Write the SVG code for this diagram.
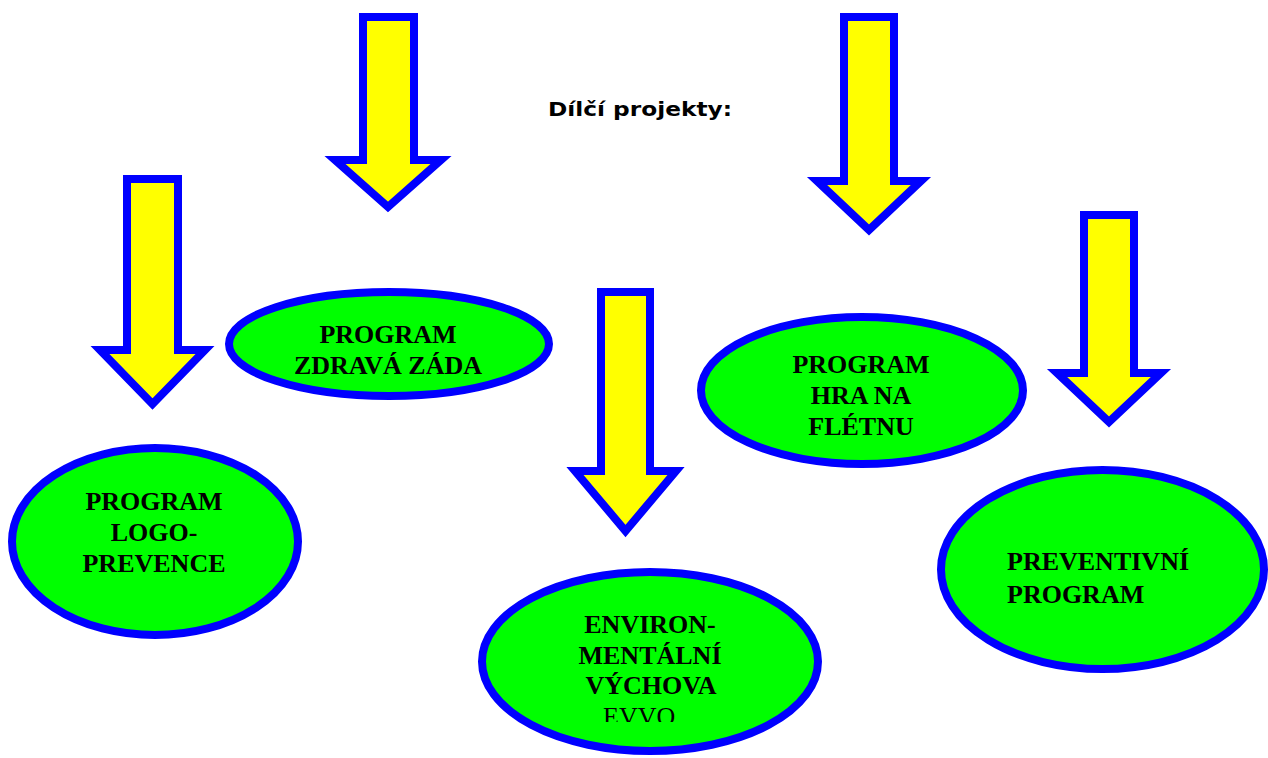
<svg xmlns="http://www.w3.org/2000/svg" width="1268" height="758" viewBox="0 0 1268 758">
<style>
.arrow{fill:#FFFF00;stroke:#0000FF;stroke-width:8;stroke-miterlimit:10}
.node ellipse{fill:#00FF00;stroke:#0000FF;stroke-width:8}
.lbl{font-family:"Liberation Serif","Times New Roman",serif;font-weight:bold;font-size:26px;fill:#000}
.title{font-family:"DejaVu Sans","Comic Sans MS",sans-serif;font-weight:bold;font-size:20px;fill:#000}
</style>
<defs>
<clipPath id="evvoClip"><rect x="480" y="560" width="340" height="162"/></clipPath>
</defs>
<rect width="1268" height="758" fill="#fff"/>
<g id="connectors">
<polygon class="arrow" points="363,17 414,17 414,160 441,160 388,207 335,160 363,160"/>
<polygon class="arrow" points="127,179 178,179 178,350 205,350 152.5,404 100,350 127,350"/>
<polygon class="arrow" points="601,292 650,292 650,471 676,471 625.5,531 575,471 601,471"/>
<polygon class="arrow" points="844,17 894,17 894,181 921,181 869,230 817,181 844,181"/>
<polygon class="arrow" points="1084,215 1134,215 1134,373 1161,373 1109,422 1057,373 1084,373"/>
</g>
<text id="title" class="title" x="548" y="116" textLength="184" lengthAdjust="spacingAndGlyphs">Dílčí projekty:</text>
<g id="node-zdrava-zada" class="node">
<ellipse cx="389" cy="344" rx="160" ry="52"/>
<text class="lbl" text-anchor="middle" x="388" y="343">PROGRAM</text>
<text class="lbl" text-anchor="middle" x="388" y="374">ZDRAVÁ ZÁDA</text>
</g>
<g id="node-hra-na-fletnu" class="node">
<ellipse cx="862" cy="390.5" rx="161" ry="73.5"/>
<text class="lbl" text-anchor="middle" x="861" y="373">PROGRAM</text>
<text class="lbl" text-anchor="middle" x="861" y="404">HRA NA</text>
<text class="lbl" text-anchor="middle" x="861" y="435">FLÉTNU</text>
</g>
<g id="node-logo-prevence" class="node">
<ellipse cx="155" cy="541.5" rx="143" ry="93.5"/>
<text class="lbl" text-anchor="middle" x="154" y="510">PROGRAM</text>
<text class="lbl" text-anchor="middle" x="154" y="541">LOGO-</text>
<text class="lbl" text-anchor="middle" x="154" y="572">PREVENCE</text>
</g>
<g id="node-environmentalni" class="node">
<ellipse cx="650" cy="661.5" rx="168" ry="89.5"/>
<text class="lbl" text-anchor="middle" x="650" y="633">ENVIRON-</text>
<text class="lbl" text-anchor="middle" x="650" y="664">MENTÁLNÍ</text>
<text class="lbl" text-anchor="middle" x="651" y="694">VÝCHOVA</text>
<text class="lbl" x="603" y="725" style="font-weight:normal" clip-path="url(#evvoClip)">EVVO</text>
</g>
<g id="node-preventivni" class="node">
<ellipse cx="1102.5" cy="569.5" rx="161.5" ry="99.5"/>
<text class="lbl" x="1007" y="570">PREVENTIVNÍ</text>
<text class="lbl" x="1007" y="603">PROGRAM</text>
</g>
</svg>
